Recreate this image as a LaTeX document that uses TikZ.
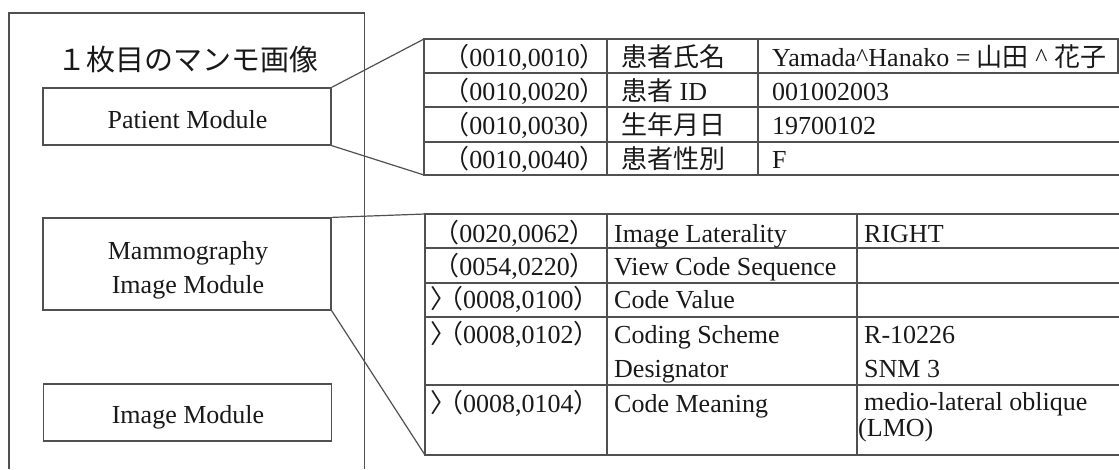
\documentclass[tikz,border=0pt]{standalone}
\usepackage{fontspec}
\setmainfont{Liberation Serif}
\newfontfamily\cjk{Noto Sans CJK JP}
\definecolor{ln}{RGB}{80,80,80}
\definecolor{tx}{RGB}{25,25,25}
\begin{document}
\begin{tikzpicture}[x=1pt,y=-1pt,
  ln/.style={draw=ln,line width=1.2pt},
  modbox/.style={ln,rectangle,minimum width=288pt,inner sep=0pt},
  lbl/.style={inner sep=0pt,text=tx,font=\fontsize{26}{34}\selectfont},
  cella/.style={inner sep=0pt,text=tx,font=\fontsize{26}{30}\selectfont},
  cellb/.style={inner sep=0pt,text=tx,font=\fontsize{26}{30}\selectfont},
  ]
\useasboundingbox (0,0) rectangle (1119,469);
% outer frame (open at the bottom)
\draw[ln] (9,469) -- (9,13) -- (364.5,13) -- (364.5,469);
\node[lbl,anchor=base,font=\cjk\fontsize{29}{30}\selectfont] (title) at (188,70) {１枚目のマンモ画像};
% module boxes
\node[modbox,minimum height=57pt] (pm) at (187,116.5) {};
\node[lbl,anchor=base] (pml) at (187.5,128) {Patient Module};
\node[modbox,minimum height=92pt] (mim) at (187,264) {};
\node[lbl,anchor=base] (miml1) at (188,259) {Mammography};
\node[lbl,anchor=base] (miml2) at (188,293) {Image Module};
\node[modbox,minimum height=57pt] (im) at (187.5,412.5) {};
\node[lbl,anchor=base] (iml) at (188,423) {Image Module};
% table 1
\coordinate (t1nw) at (424,39);
\coordinate (t1sw) at (424,175);
\draw[ln] (1119,39) -| (t1sw) -- (1119,175);
\foreach \yy in {73,107,142} \draw[ln] (424,\yy) -- (1119,\yy);
\draw[ln] (607,39) -- (607,175);
\draw[ln] (758,39) -- (758,175);
\draw[ln] (1118,39) -- (1118,73);
% table 2
\coordinate (t2nw) at (425,214);
\coordinate (t2sw) at (425,455);
\draw[ln] (1119,214) -| (t2sw) -- (1119,455);
\foreach \yy in {248,283,317,385} \draw[ln] (425,\yy) -- (1119,\yy);
\draw[ln] (607,214) -- (607,455);
\draw[ln] (857,214) -- (857,455);
% connectors
\draw[ln] (pm.north east) -- (t1nw);
\draw[ln] (pm.south east) -- (t1sw);
\draw[ln] (mim.north east) -- (t2nw);
\draw[ln] (mim.south east) -- (t2sw);
% table 1 text
\node[cella,anchor=base east] (a1) at (606,66) {{\cjk （}0010,0010{\cjk ）}};
\node[cella,anchor=base east] (a2) at (606,100) {{\cjk （}0010,0020{\cjk ）}};
\node[cella,anchor=base east] (a3) at (606,134) {{\cjk （}0010,0030{\cjk ）}};
\node[cella,anchor=base east] (a4) at (606,168) {{\cjk （}0010,0040{\cjk ）}};
\node[cella,anchor=base west] (b1) at (621,66) {{\cjk 患者氏名}};
\node[cella,anchor=base west] (b2) at (621,100) {{\cjk 患者} ID};
\node[cella,anchor=base west] (b3) at (621,134) {{\cjk 生年月日}};
\node[cella,anchor=base west] (b4) at (621,168) {{\cjk 患者性別}};
\node[cella,anchor=base west] (c1) at (772,66) {Yamada\^{}Hanako = {\cjk 山田} \^{} {\cjk 花子}};
\node[cella,anchor=base west] (c2) at (772,100) {001002003};
\node[cella,anchor=base west] (c3) at (772,134) {19700102};
\node[cella,anchor=base west] (c4) at (772,168) {F};
% table 2 text
\node[cellb,anchor=base east] (d1) at (596,242) {{\cjk （}0020,0062{\cjk ）}};
\node[cellb,anchor=base east] (d2) at (596,275) {{\cjk （}0054,0220{\cjk ）}};
\node[cellb,anchor=base west] (d3) at (430,308) {{\cjk 〉}\kern-19pt{\cjk （}0008,0100{\cjk ）}};
\node[cellb,anchor=base west] (d4) at (430,343) {{\cjk 〉}\kern-19pt{\cjk （}0008,0102{\cjk ）}};
\node[cellb,anchor=base west] (d5) at (430,412) {{\cjk 〉}\kern-19pt{\cjk （}0008,0104{\cjk ）}};
\node[cellb,anchor=base west] (e1) at (614,242) {Image Laterality};
\node[cellb,anchor=base west] (e2) at (614,275) {View Code Sequence};
\node[cellb,anchor=base west] (e3) at (614,308) {Code Value};
\node[cellb,anchor=base west] (e4) at (614,343) {Coding Scheme};
\node[cellb,anchor=base west] (e4b) at (614,377) {Designator};
\node[cellb,anchor=base west] (e5) at (614,412) {Code Meaning};
\node[cellb,anchor=base west] (f1) at (864,242) {RIGHT};
\node[cellb,anchor=base west] (f4) at (864,343) {R-10226};
\node[cellb,anchor=base west] (f4b) at (864,377) {SNM 3};
\node[cellb,anchor=base west] (f5) at (864,410) {medio-lateral oblique};
\node[cellb,anchor=base west] (f5b) at (858,436) {(LMO)};
\end{tikzpicture}
\end{document}
